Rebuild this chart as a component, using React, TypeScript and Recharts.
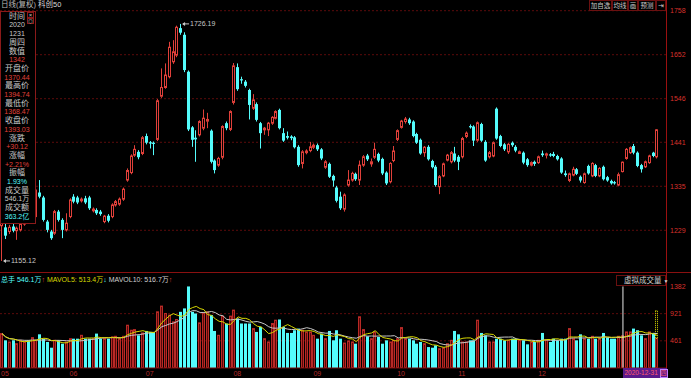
import React from "react";
import { ComposedChart, Bar, Line, XAxis, YAxis, CartesianGrid, ReferenceLine, ReferenceDot } from "recharts";

// 科创50 日线, 2020-05-06 .. 2021-01-14
const open = [
  1240, 1236, 1226, 1238, 1228, 1230, 1244, 1256, 1250, 1262,
  1320, 1308, 1250, 1226, 1222, 1274, 1254, 1230, 1262, 1310,
  1308, 1300, 1306, 1308, 1276, 1278, 1274, 1250, 1264, 1262,
  1290, 1292, 1304, 1350, 1368, 1410, 1418, 1414, 1456, 1441,
  1440, 1448, 1552, 1573, 1599, 1635, 1651, 1716, 1700, 1611,
  1477, 1452, 1459, 1475, 1492, 1469, 1397, 1386, 1405, 1487,
  1472, 1537, 1622, 1593, 1587, 1567, 1523, 1533, 1487, 1471,
  1471, 1487, 1499, 1519, 1463, 1456, 1455, 1453, 1430, 1390,
  1416, 1421, 1429, 1434, 1424, 1381, 1389, 1360, 1332, 1310,
  1280, 1338, 1350, 1365, 1350, 1386, 1409, 1389, 1405, 1413,
  1401, 1368, 1346, 1397, 1448, 1477, 1491, 1496, 1491, 1461,
  1447, 1416, 1430, 1396, 1382, 1334, 1360, 1398, 1394, 1414,
  1406, 1406, 1455, 1480, 1479, 1446, 1485, 1442, 1406, 1408,
  1522, 1456, 1436, 1418, 1440, 1430, 1414, 1416, 1400, 1386,
  1394, 1392, 1414, 1410, 1412, 1413, 1408, 1402, 1366, 1349,
  1362, 1376, 1358, 1344, 1384, 1360, 1386, 1360, 1382, 1357,
  1348, 1345, 1338, 1370.44, 1402, 1416, 1432, 1416, 1386, 1382,
  1392, 1416, 1406,
];
const high = [
  1262, 1246, 1242, 1248, 1238, 1250, 1262, 1262, 1268, 1330,
  1350, 1312, 1254, 1230, 1278, 1278, 1258, 1270, 1306, 1316,
  1312, 1308, 1312, 1312, 1284, 1282, 1278, 1266, 1268, 1294,
  1302, 1308, 1332, 1378, 1412, 1434, 1422, 1456, 1462, 1444,
  1443, 1545, 1619, 1631, 1683, 1687, 1722, 1726.19, 1706, 1614,
  1480, 1470, 1494, 1520, 1512, 1472, 1400, 1406, 1482, 1491,
  1518, 1632, 1631, 1599, 1591, 1570, 1557, 1537, 1490, 1478,
  1490, 1504, 1518, 1522, 1475, 1467, 1458, 1456, 1434, 1422,
  1424, 1442, 1438, 1438, 1427, 1398, 1392, 1363, 1336, 1322,
  1318, 1374, 1370, 1368, 1397, 1410, 1413, 1402, 1440, 1416,
  1404, 1371, 1393, 1432, 1472, 1495, 1502, 1500, 1494, 1464,
  1450, 1432, 1434, 1399, 1386, 1362, 1392, 1413, 1420, 1430,
  1410, 1454, 1467, 1484, 1482, 1491, 1488, 1446, 1420, 1443,
  1525, 1459, 1439, 1439, 1443, 1434, 1421, 1419, 1403, 1395,
  1397, 1409, 1421, 1416, 1415, 1418, 1411, 1405, 1373, 1368,
  1382, 1379, 1361, 1368, 1387, 1393, 1389, 1381, 1385, 1360,
  1351, 1348, 1368, 1394.74, 1427, 1431, 1437, 1419, 1389, 1397,
  1411, 1418, 1473,
];
const low = [
  1155.12, 1208, 1220, 1224, 1206, 1226, 1240, 1246, 1246, 1258,
  1306, 1250, 1224, 1206, 1218, 1250, 1210, 1226, 1258, 1294,
  1292, 1296, 1292, 1278, 1272, 1266, 1264, 1246, 1248, 1258,
  1286, 1288, 1300, 1346, 1364, 1406, 1400, 1410, 1436, 1426,
  1410, 1444, 1548, 1570, 1595, 1630, 1646, 1700, 1610, 1468,
  1430, 1394, 1455, 1470, 1475, 1390, 1366, 1382, 1400, 1470,
  1468, 1532, 1565, 1582, 1573, 1496, 1519, 1491, 1426, 1459,
  1456, 1483, 1496, 1472, 1442, 1448, 1446, 1426, 1382, 1378,
  1412, 1417, 1425, 1420, 1398, 1377, 1355, 1334, 1296, 1278,
  1274, 1334, 1346, 1348, 1338, 1382, 1396, 1382, 1401, 1393,
  1362, 1338, 1342, 1393, 1444, 1474, 1486, 1483, 1453, 1437,
  1411, 1406, 1397, 1378, 1334, 1316, 1357, 1395, 1390, 1393,
  1374, 1402, 1451, 1474, 1432, 1442, 1442, 1394, 1402, 1405,
  1447, 1429, 1420, 1413, 1430, 1417, 1413, 1388, 1382, 1383,
  1384, 1389, 1406, 1402, 1406, 1405, 1397, 1365, 1358, 1345,
  1359, 1362, 1344, 1341, 1363, 1357, 1357, 1357, 1349, 1346,
  1339, 1339, 1335, 1368.47, 1399, 1413, 1412, 1381, 1368, 1379,
  1389, 1405, 1402,
];
const close = [
  1258, 1216, 1236, 1228, 1234, 1244, 1256, 1250, 1262, 1326,
  1310, 1254, 1230, 1210, 1274, 1254, 1230, 1246, 1302, 1298,
  1296, 1304, 1296, 1282, 1280, 1270, 1268, 1263, 1252, 1290,
  1298, 1304, 1328, 1373, 1408, 1424, 1405, 1452, 1440, 1438,
  1437, 1541, 1573, 1603, 1670, 1659, 1718, 1705, 1615, 1472,
  1447, 1448, 1491, 1499, 1496, 1394, 1374, 1402, 1479, 1475,
  1515, 1625, 1569, 1590, 1577, 1531, 1543, 1495, 1463, 1475,
  1487, 1501, 1515, 1475, 1445, 1452, 1451, 1429, 1386, 1418,
  1420, 1430, 1434, 1424, 1402, 1394, 1358, 1349, 1300, 1282,
  1314, 1350, 1366, 1352, 1386, 1406, 1400, 1394, 1424, 1397,
  1366, 1342, 1390, 1420, 1469, 1492, 1497, 1487, 1456, 1440,
  1414, 1429, 1400, 1381, 1338, 1358, 1389, 1410, 1416, 1397,
  1394, 1450, 1463, 1477, 1445, 1488, 1445, 1397, 1416, 1440,
  1450, 1432, 1424, 1436, 1434, 1421, 1418, 1392, 1386, 1392,
  1389, 1406, 1410, 1413, 1409, 1408, 1400, 1368, 1362, 1365,
  1376, 1365, 1349, 1365, 1366, 1390, 1360, 1378, 1352, 1349,
  1342, 1342, 1362.91, 1393.03, 1424, 1428, 1416, 1384, 1376, 1394,
  1408, 1408, 1471,
];
// 成交量 (万手)
const volume = [
  583, 469, 440, 469, 412, 469, 440, 469, 515, 469,
  571, 497, 441, 344, 469, 469, 412, 441, 497, 497,
  497, 554, 497, 497, 497, 583, 497, 497, 497, 526,
  537, 497, 537, 725, 640, 651, 554, 594, 628, 611,
  611, 952, 1049, 924, 896, 782, 822, 952, 1010, 1382,
  952, 924, 765, 924, 952, 896, 628, 554, 879, 754,
  879, 981, 839, 754, 754, 754, 668, 611, 697, 497,
  441, 754, 810, 822, 697, 594, 594, 640, 668, 640,
  611, 611, 554, 497, 583, 497, 628, 469, 640, 497,
  423, 458, 441, 412, 868, 651, 537, 497, 611, 526,
  412, 469, 441, 469, 497, 685, 497, 497, 469, 412,
  441, 412, 355, 344, 384, 327, 344, 412, 469, 628,
  571, 441, 441, 469, 469, 810, 594, 554, 441, 441,
  497, 497, 469, 469, 497, 497, 469, 469, 401, 441,
  441, 469, 594, 469, 441, 497, 469, 497, 497, 668,
  497, 469, 571, 497, 497, 537, 497, 497, 594, 515,
  497, 497, 537, 546.1, 611, 611, 668, 640, 554, 497,
  611, 594, 503,
];
const virtualVolume = 969;

const monthTickIdx = [0, 18, 38, 61, 82, 104, 120, 141];
const monthTickLabels = ["05", "06", "07", "08", "09", "10", "11", "12"];
const priceTicks = [1229, 1335, 1441, 1546, 1652, 1758];
const volTicks = [461, 921, 1382];
const cursorIdx = 163;

const infoRows: [string, string][] = [
  ["时间", "#c8c8c8"], ["2020", "#c8c8c8"], ["1231", "#c8c8c8"], ["周四", "#c8c8c8"],
  ["数值", "#c8c8c8"], ["1342", "#e0403a"], ["开盘价", "#c8c8c8"], ["1370.44", "#e0403a"],
  ["最高价", "#c8c8c8"], ["1394.74", "#e0403a"], ["最低价", "#c8c8c8"], ["1368.47", "#e0403a"],
  ["收盘价", "#c8c8c8"], ["1393.03", "#e0403a"], ["涨跌", "#c8c8c8"], ["+30.12", "#e0403a"],
  ["涨幅", "#c8c8c8"], ["+2.21%", "#e0403a"], ["振幅", "#c8c8c8"], ["1.93%", "#54fcfc"],
  ["成交量", "#c8c8c8"], ["546.1万", "#c8c8c8"], ["成交额", "#c8c8c8"], ["363.2亿", "#54fcfc"],
];

const RED = "#e0403a";
const CYAN = "#54fcfc";
const AXIS_RED = "#d8322c";
const DARK_RED = "#7a0c0c";
const FONT = "'Liberation Sans', 'Noto Sans CJK SC', sans-serif";

const avg = (arr: number[], i: number, n: number) => {
  const s = arr.slice(Math.max(0, i - n + 1), i + 1);
  return s.reduce((a, b) => a + b, 0) / s.length;
};

const data = open.map((o, i) => ({
  i,
  open: o,
  high: high[i],
  low: low[i],
  close: close[i],
  range: [low[i], high[i]],
  vol: volume[i],
  ma5: avg(volume, i, 5),
  ma10: avg(volume, i, 10),
}));

const X_DOMAIN: [number, number] = [-0.525, 174.3];

const Candle = (props: any) => {
  const { x, y, width, height, payload } = props;
  const top = Math.min(y, y + height);
  const h = Math.abs(height);
  const { open: o, close: c, high: hi, low: lo } = payload;
  const k = h / (hi - lo);
  const yOf = (v: number) => top + (hi - v) * k;
  const col = Math.floor(x + width / 2);
  const up = c >= o;
  const bTop = yOf(Math.max(o, c));
  const bBot = yOf(Math.min(o, c));
  const bh = Math.max(1, bBot - bTop);
  if (up) {
    return (
      <g>
        <line x1={col + 0.5} x2={col + 0.5} y1={top} y2={bTop} stroke={RED} strokeWidth={1} />
        <line x1={col + 0.5} x2={col + 0.5} y1={bTop + bh} y2={top + h} stroke={RED} strokeWidth={1} />
        <rect x={col - 0.5} y={bTop} width={2} height={bh} fill="#000" stroke={RED} strokeWidth={1} />
      </g>
    );
  }
  return (
    <g>
      <line x1={col + 0.5} x2={col + 0.5} y1={top} y2={top + h} stroke={CYAN} strokeWidth={1} />
      <rect x={col - 1} y={bTop} width={3} height={bh} fill={CYAN} />
    </g>
  );
};

const VolBar = (props: any) => {
  const { x, y, width, height, payload } = props;
  const col = Math.floor(x + width / 2);
  const up = payload.close >= payload.open;
  const bottom = y + height;
  const extra =
    payload.i === data.length - 1 ? (
      <rect
        x={col - 0.5}
        y={bottom - (virtualVolume * height) / payload.vol}
        width={2}
        height={(virtualVolume * height) / payload.vol - height}
        fill="none"
        stroke="#d8d800"
        strokeDasharray="1 1"
      />
    ) : null;
  return (
    <g>
      {up ? (
        <rect x={col - 0.5} y={y} width={2} height={height} fill="#5a0808" stroke="#b82a26" strokeWidth={1} />
      ) : (
        <rect x={col - 1} y={y} width={3} height={height} fill={CYAN} />
      )}
      {extra}
    </g>
  );
};

const PriceTick = ({ x, y, payload }: any) => (
  <text x={x + 2} y={y} dy={2.5} fill={AXIS_RED} fontSize={7} fontFamily={FONT}>
    {payload.value}
  </text>
);

const MonthTick = ({ x, y, payload }: any) => {
  const k = monthTickIdx.indexOf(payload.value);
  return (
    <text x={Math.max(1, x - 1)} y={y + 6} fill="#b02a2a" fontSize={7} fontFamily={FONT}>
      {monthTickLabels[k]}
    </text>
  );
};

const ExtremeMark = ({ cx, cy, value }: any) => (
  <g>
    <line x1={cx + 2} x2={cx + 8} y1={cy} y2={cy} stroke="#c8c8c8" />
    <path d={`M${cx + 1},${cy} l3,-2 l0,4 z`} fill="#c8c8c8" />
    <text x={cx + 9} y={cy} dy={2.5} fill="#c8c8c8" fontSize={7} fontFamily={FONT}>
      {value}
    </text>
  </g>
);

const box = (left: number, top: number, w: number, h: number): React.CSSProperties => ({
  position: "absolute",
  left,
  top,
  width: w,
  height: h,
  boxSizing: "border-box",
});

export default function App() {
  const maxI = high.indexOf(Math.max(...high));
  const minI = low.indexOf(Math.min(...low));
  return (
    <div
      style={{
        position: "fixed",
        left: 0,
        top: 0,
        width: 691,
        height: 378,
        background: "#000",
        overflow: "hidden",
        fontFamily: FONT,
      }}
    >
      {/* price pane */}
      <div style={box(0, 0, 691, 272.5)}>
        <ComposedChart width={691} height={272.5} data={data} margin={{ top: 10.7, right: 0, bottom: 0, left: 0 }}>
          <CartesianGrid vertical={false} stroke="#5c0b0b" strokeDasharray="2 2" />
          <XAxis type="number" dataKey="i" domain={X_DOMAIN} allowDataOverflow hide />
          <YAxis
            orientation="right"
            width={25}
            domain={[1127.3, 1758]}
            allowDataOverflow
            ticks={priceTicks}
            axisLine={false}
            tickLine={false}
            tickSize={0}
            tick={<PriceTick />}
          />
          <Bar dataKey="range" barSize={3} shape={<Candle />} isAnimationActive={false} />
          <ReferenceDot x={maxI} y={high[maxI]} r={0} shape={(p: any) => <ExtremeMark {...p} value={high[maxI].toFixed(2)} />} />
          <ReferenceDot x={minI} y={low[minI]} r={0} shape={(p: any) => <ExtremeMark {...p} value={low[minI].toFixed(2)} />} />
        </ComposedChart>
      </div>

      {/* volume pane */}
      <div style={box(0, 272.5, 691, 105.5)}>
        <ComposedChart width={691} height={105.5} data={data} margin={{ top: 0, right: 0, bottom: 0, left: 0 }}>
          <CartesianGrid vertical={false} horizontalValues={[461, 921]} stroke="#5c0b0b" strokeDasharray="2 2" />
          <XAxis
            type="number"
            dataKey="i"
            domain={X_DOMAIN}
            allowDataOverflow
            height={10.5}
            ticks={monthTickIdx}
            axisLine={{ stroke: DARK_RED }}
            tickLine={false}
            tickSize={0}
            tick={<MonthTick />}
            interval={0}
          />
          <YAxis
            orientation="right"
            width={25}
            domain={[0, 1610]}
            allowDataOverflow
            ticks={volTicks}
            axisLine={false}
            tickLine={false}
            tickSize={0}
            tick={<PriceTick />}
          />
          <Bar dataKey="vol" barSize={3} shape={<VolBar />} isAnimationActive={false} />
          <Line dataKey="ma10" stroke="#c8c8c8" strokeWidth={1} dot={false} isAnimationActive={false} />
          <Line dataKey="ma5" stroke="#d8d800" strokeWidth={1} dot={false} isAnimationActive={false} />
          <ReferenceLine
            segment={[
              { x: cursorIdx, y: 0 },
              { x: cursorIdx, y: 1382 },
            ]}
            stroke="#e8e8e8"
          />
        </ComposedChart>
      </div>

      {/* frame lines */}
      <div style={{ ...box(666, 0, 1, 378), background: "#9a1010" }} />
      <div style={{ ...box(0, 272, 691, 1), background: "#8a1010" }} />

      {/* title */}
      <div style={{ position: "absolute", left: 1, top: 0, fontSize: 7.5, lineHeight: "10px", color: "#b8b8b8", whiteSpace: "nowrap" }}>
        日线(复权) <span style={{ color: "#d8d8d8" }}>科创50</span>
      </div>

      {/* top-right buttons */}
      {[
        ["加自选", 589, 23],
        ["均线", 612, 16],
        ["画", 628, 10],
        ["预测", 638, 18],
        ["⇥", 656, 10],
      ].map(([t, l, w]) => (
        <div
          key={t as string}
          style={{
            ...box(l as number, 0, w as number, 10.5),
            border: "1px solid #6a1010",
            color: "#c8c8c8",
            fontSize: 6.5,
            lineHeight: "9px",
            textAlign: "center",
            whiteSpace: "nowrap",
            background: "#000",
          }}
        >
          {t}
        </div>
      ))}

      {/* info panel */}
      <div style={{ ...box(0, 10.7, 35.5, 213), border: "1px solid #8a1a1a", background: "#000" }} />
      <div style={{ ...box(27, 11.5, 7, 6), border: "1px solid #8a1a1a", color: "#c8c8c8", fontSize: 6, lineHeight: "4px", textAlign: "center" }}>×</div>
      <div style={{ ...box(27, 17.5, 7, 6.5), border: "1px solid #8a1a1a", color: "#c8c8c8", fontSize: 5, lineHeight: "5px", textAlign: "center" }}>◎</div>
      {infoRows.map(([t, c], k) => {
        const cjk = /[\u4e00-\u9fff]/.test(t) && !/\d/.test(t);
        return (
          <div
            key={k}
            style={{
              position: "absolute",
              left: 0,
              width: 34,
              top: 16.7 + 8.7 * k - 5,
              height: 10,
              lineHeight: "10px",
              textAlign: "center",
              color: c,
              fontSize: cjk ? 8 : 7,
              whiteSpace: "nowrap",
            }}
          >
            {t}
          </div>
        );
      })}

      {/* volume legend */}
      <div style={{ position: "absolute", left: 1, top: 274.5, fontSize: 7, lineHeight: "9px", whiteSpace: "nowrap" }}>
        <span style={{ color: CYAN }}>总手 546.1万</span>
        <span style={{ color: RED }}>↑</span>
        <span style={{ color: "#d8d800" }}> MAVOL5: 513.4万</span>
        <span style={{ color: CYAN }}>↓</span>
        <span style={{ color: "#d0d0d0" }}> MAVOL10: 516.7万</span>
        <span style={{ color: RED }}>↑</span>
      </div>

      {/* virtual volume box */}
      <div
        style={{
          ...box(616, 275, 50, 11),
          border: "1px solid #6a1010",
          background: "#000",
          color: "#d0d0d0",
          fontSize: 7.5,
          lineHeight: "9px",
          paddingLeft: 7,
          whiteSpace: "nowrap",
        }}
      >
        虚拟成交量 <span style={{ fontSize: 5 }}>▼</span>
      </div>

      {/* cursor date box */}
      <div
        style={{
          ...box(622.5, 368, 44, 10),
          background: "#5a1a8c",
          color: "#ff5a6a",
          fontSize: 6.5,
          lineHeight: "10px",
          paddingLeft: 2,
          whiteSpace: "nowrap",
        }}
      >
        2020-12-31 <span style={{ border: "1px solid #c080ff", fontSize: 6, lineHeight: "7px", display: "inline-block" }}>四</span>
      </div>
    </div>
  );
}
